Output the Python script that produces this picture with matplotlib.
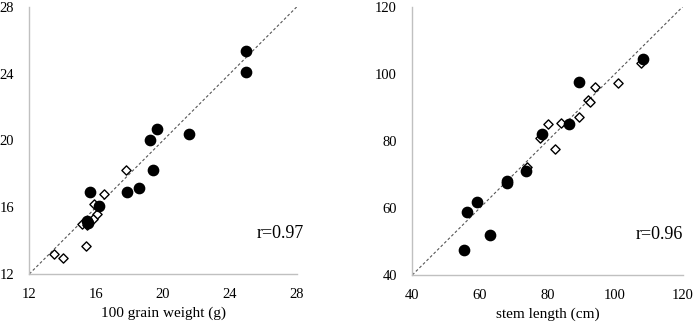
import matplotlib.pyplot as plt
import matplotlib

plt.rcParams['font.family'] = 'Liberation Serif'
plt.rcParams['font.size'] = 11

# grain weight panel
gw_filled_x = [24.97, 24.97, 19.62, 19.2, 21.58, 19.4, 18.54, 17.86, 15.63, 16.17, 15.47, 15.5]
gw_filled_y = [25.34, 24.08, 20.68, 20.02, 20.4, 18.24, 17.14, 16.9, 16.9, 16.1, 15.2, 15.05]
gw_open_x = [17.76, 16.46, 15.85, 16.05, 15.79, 15.15, 15.45, 15.39, 13.5, 14.0]
gw_open_y = [18.2, 16.78, 16.22, 15.58, 15.3, 15.0, 14.95, 13.66, 13.2, 12.96]

# stem length panel
sl_filled_x = [108.4, 89.3, 86.5, 78.4, 68.0, 68.0, 73.5, 59.2, 56.1, 62.9, 55.2]
sl_filled_y = [104.3, 97.6, 84.9, 82.2, 68.0, 67.4, 71.1, 61.8, 58.8, 51.8, 47.3]
sl_open_x = [107.8, 101.0, 94.0, 91.9, 92.6, 89.3, 83.9, 80.2, 77.9, 82.1, 74.0]
sl_open_y = [103.1, 97.4, 96.0, 92.1, 91.6, 87.0, 85.4, 85.1, 80.9, 77.6, 72.1]

panels = [
    dict(fx=gw_filled_x, fy=gw_filled_y, ox=gw_open_x, oy=gw_open_y,
         lim=(12, 28), ticks=[12, 16, 20, 24, 28], label='100 grain weight (g)',
         r='r=0.97', rect=[0.0423, 0.157, 0.386, 0.822], rx=1.025),
    dict(fx=sl_filled_x, fy=sl_filled_y, ox=sl_open_x, oy=sl_open_y,
         lim=(40, 120), ticks=[40, 60, 80, 100, 120], label='stem length (cm)',
         r='r=0.96', rect=[0.595, 0.154, 0.39, 0.825], rx=1.0),
]

fig = plt.figure(figsize=(6.93, 3.25), dpi=100)
for p in panels:
    ax = fig.add_axes(p['rect'])
    lo, hi = p['lim']
    ax.plot([lo, hi], [lo, hi], color='#555555', linestyle=(0, (2.5, 2)), linewidth=0.8, zorder=1)
    ax.scatter(p['ox'], p['oy'], marker='D', s=22, facecolor='white', edgecolor='black',
               linewidth=1.0, zorder=2)
    ax.scatter(p['fx'], p['fy'], marker='o', s=55, color='black', zorder=3)
    ax.set_xlim(lo, hi)
    ax.set_ylim(lo, hi)
    ax.set_xticks(p['ticks'])
    ax.set_yticks(p['ticks'])
    ax.tick_params(length=0, pad=10, labelsize=10.5)
    ax.tick_params(axis='y', pad=11)
    for s in ['top', 'right']:
        ax.spines[s].set_visible(False)
    for s in ['left', 'bottom']:
        ax.spines[s].set_color('#c0c0c0')
        ax.spines[s].set_linewidth(1.0)
    ax.set_xlabel(p['label'], fontsize=11, labelpad=4)
    ax.text(p['rx'], 0.15, p['r'], transform=ax.transAxes, ha='right', va='center', fontsize=13)

fig.savefig('out.png', dpi=100)
